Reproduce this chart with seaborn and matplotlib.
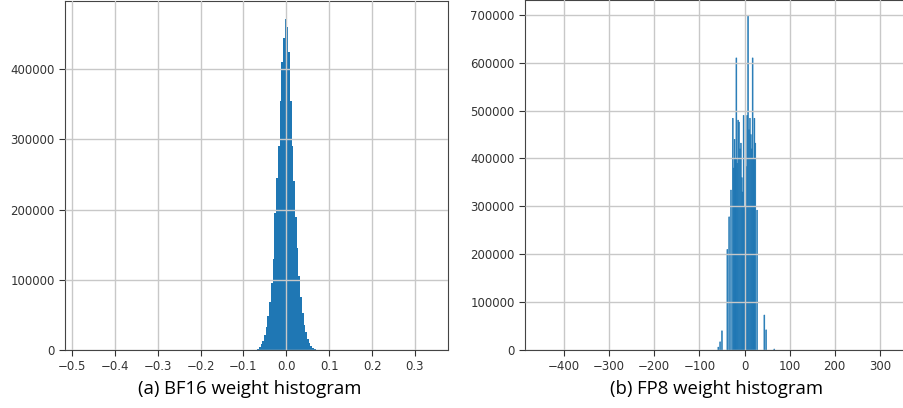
import numpy as np
import matplotlib
matplotlib.use("Agg")
import matplotlib.pyplot as plt
import seaborn as sns

# BF16 weights: bin centres and heights
bf16_centers = [-0.070, -0.066, -0.062, -0.058, -0.054, -0.050, -0.046, -0.042,
                -0.038, -0.034, -0.030, -0.026, -0.022, -0.018, -0.014, -0.010,
                -0.006, -0.002, 0.002, 0.006, 0.010, 0.014, 0.018, 0.022,
                0.026, 0.030, 0.034, 0.038, 0.042, 0.046, 0.050, 0.054,
                0.058, 0.062, 0.066, 0.070]
bf16_counts = [500, 1500, 4000, 8000, 13000, 21000, 33000, 48000,
               68000, 95000, 130000, 195000, 245000, 290000, 355000, 410000,
               445000, 472000, 460000, 425000, 355000, 290000, 240000, 190000,
               145000, 105000, 75000, 52000, 36000, 25000, 16000, 10000,
               6000, 3000, 1200, 400]

# FP8 weights: discrete values and heights
fp8_values = [-58, -54, -50, -38, -34, -30, -26, -24, -22, -20, -18, -16, -14,
              -12, -10, -8, -6, -4, -2, 0, 2, 4, 6, 8, 10, 12, 14, 16, 18, 20,
              22, 24, 28, 44, 48, 66]
fp8_counts = [6000, 17000, 40000, 210000, 278000, 334000, 484000, 380000,
              440000, 400000, 610000, 390000, 480000, 476000, 420000, 432000,
              360000, 330000, 490000, 300000, 286000, 383000, 490000, 697000,
              460000, 484000, 450000, 420000, 610000, 400000, 484000, 432000,
              292000, 73000, 42000, 2000]

captions = ["(a) BF16 weight histogram", "(b) FP8 weight histogram"]

sns.set_style("ticks", {"axes.grid": True, "grid.color": "#c8c8c8"})
plt.rcParams["font.family"] = ["DejaVu Sans"]

fig = plt.figure(figsize=(9.04, 4.08), dpi=100)
ax1 = fig.add_axes([65 / 904, 58 / 408, 383 / 904, 349 / 408])
ax2 = fig.add_axes([525 / 904, 58 / 408, 439 / 904, 350 / 408])

bf16_edges = np.round(np.arange(-0.072, 0.0721, 0.004), 4).tolist()
sns.histplot(x=bf16_centers, weights=bf16_counts, bins=bf16_edges,
             color="#1f77b4", alpha=1, linewidth=0, ax=ax1)
ax1.set_xlim(-0.5163, 0.377)
ax1.set_ylim(0, 497000)
ax1.set_xticks(np.round(np.arange(-0.5, 0.31, 0.1), 1))
ax1.set_yticks(np.arange(0, 400001, 100000))

fp8_edges = np.arange(-449, 450, 2).tolist()
sns.histplot(x=fp8_values, weights=fp8_counts, bins=fp8_edges,
             color="#1f77b4", alpha=1, linewidth=0.4, edgecolor="#1f77b4", ax=ax2)
# keep sub-pixel spikes visible instead of snapping them away,
# and drop the outline of empty bins so the baseline stays clean
for p in ax2.patches:
    p.set_snap(False)
    if p.get_height() == 0:
        p.set_linewidth(0)
ax2.set_xlim(-486.5, 486.5)
ax2.set_ylim(0, 731000)
ax2.set_xticks(np.arange(-400, 301, 100))
ax2.set_yticks(np.arange(0, 700001, 100000))

for ax in (ax1, ax2):
    ax.set_xlabel("")
    ax.set_ylabel("")
    ax.set_axisbelow(False)
    ax.grid(True, color="#c8c8c8", linewidth=1)
    ax.tick_params(labelsize=8.5, labelcolor="#333333", color="#333333", length=4)
    for s in ax.spines.values():
        s.set_visible(True)
        s.set_color("#444444")
    ax.get_yaxis().get_major_formatter().set_scientific(False)
    ax.get_yaxis().get_major_formatter().set_useOffset(False)

fig.text(250 / 904, 1 - 389 / 408, captions[0], ha="center", va="center",
         fontsize=13.3, family=["Open Sans", "DejaVu Sans"], color="black")
fig.text(717 / 904, 1 - 389 / 408, captions[1], ha="center", va="center",
         fontsize=13.3, family=["Open Sans", "DejaVu Sans"], color="black")

fig.savefig("out.png", dpi=100)
